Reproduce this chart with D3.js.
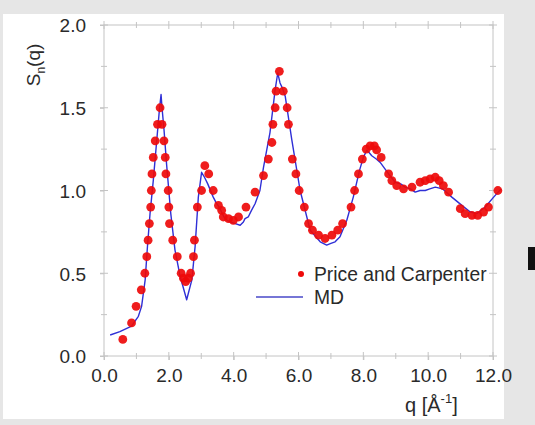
<!DOCTYPE html>
<html>
<head>
<meta charset="utf-8">
<script src="https://cdn.jsdelivr.net/npm/d3@7"></script>
<style>
  html, body { margin: 0; padding: 0; background: #fff; }
  svg { display: block; font-family: "Liberation Sans", Arial, Helvetica, sans-serif; }
</style>
</head>
<body>
<svg id="chart" width="535" height="425"></svg>
<script>
// Neutron structure factor S_n(q): experiment (Price and Carpenter) vs. MD simulation
const expQ = [0.58,0.85,0.99,1.15,1.26,1.32,1.36,1.40,1.44,1.46,1.48,1.52,1.58,1.65,1.73,1.79,1.85,1.89,1.91,1.98,2.00,2.02,2.12,2.26,2.38,2.45,2.52,2.60,2.67,2.76,2.79,2.88,3.01,3.11,3.23,3.37,3.53,3.63,3.68,3.84,3.99,4.15,4.38,4.66,4.92,5.07,5.18,5.21,5.28,5.31,5.41,5.53,5.65,5.69,5.81,5.92,6.02,6.18,6.31,6.43,6.62,6.82,7.03,7.21,7.36,7.62,7.73,7.85,7.97,8.09,8.21,8.34,8.41,8.55,8.78,8.88,9.03,9.24,9.50,9.75,9.91,10.06,10.22,10.34,10.47,10.63,10.99,11.14,11.35,11.53,11.71,11.86,12.15];
const expS = [0.10,0.20,0.30,0.40,0.50,0.60,0.70,0.80,0.90,1.00,1.10,1.20,1.30,1.40,1.50,1.40,1.30,1.20,1.10,1.00,0.90,0.80,0.70,0.60,0.50,0.47,0.45,0.47,0.50,0.60,0.70,0.90,1.00,1.15,1.10,1.00,0.91,0.88,0.84,0.83,0.82,0.84,0.90,0.99,1.09,1.19,1.29,1.40,1.50,1.60,1.72,1.60,1.50,1.40,1.19,1.10,1.00,0.90,0.80,0.76,0.73,0.71,0.73,0.76,0.80,0.90,1.00,1.10,1.19,1.25,1.27,1.27,1.245,1.20,1.10,1.06,1.03,1.01,1.02,1.05,1.06,1.07,1.08,1.06,1.03,0.99,0.89,0.86,0.85,0.85,0.87,0.90,1.00];

const mdQ = [0.19,0.49,0.85,1.06,1.16,1.27,1.34,1.42,1.52,1.63,1.71,1.76,1.79,1.85,1.93,2.06,2.19,2.35,2.55,2.71,2.81,2.91,3.01,3.10,3.20,3.37,3.45,3.58,3.70,3.80,3.89,4.05,4.20,4.30,4.35,4.45,4.55,4.66,4.81,4.92,5.12,5.28,5.36,5.43,5.50,5.59,5.79,6.05,6.36,6.67,6.87,7.00,7.13,7.28,7.49,7.69,7.88,8.00,8.11,8.26,8.40,8.52,8.78,8.98,9.15,9.29,9.45,9.60,9.75,9.91,10.05,10.22,10.44,10.73,11.04,11.30,11.50,11.76,12.02,12.25];
const mdS = [0.127,0.147,0.18,0.24,0.30,0.46,0.66,0.86,1.06,1.31,1.49,1.58,1.50,1.37,1.16,0.86,0.64,0.48,0.34,0.46,0.66,0.96,1.11,1.08,1.04,0.96,0.93,0.89,0.84,0.82,0.81,0.80,0.79,0.81,0.83,0.84,0.88,0.92,1.00,1.14,1.35,1.61,1.71,1.65,1.62,1.57,1.31,1.00,0.76,0.69,0.67,0.68,0.69,0.72,0.82,0.96,1.12,1.20,1.245,1.21,1.19,1.17,1.10,1.05,1.04,1.02,1.01,0.99,1.00,1.00,1.01,1.02,1.01,0.96,0.91,0.87,0.86,0.90,0.96,1.01];

const xMajor = [0, 2, 4, 6, 8, 10, 12];
const xMinor = [1, 3, 5, 7, 9, 11];
const yMajor = [0, 0.5, 1.0, 1.5, 2.0];
const yMinor = [0.25, 0.75, 1.25, 1.75];

const legendLabels = ["Price and Carpenter", "MD"];

const svg = d3.select("#chart");
const W = 535, H = 425;

// page backdrop: grey border bands around the white sheet
svg.append("rect").attr("x", 0).attr("y", 0).attr("width", W).attr("height", H).attr("fill", "#e6e6e6");
svg.append("rect").attr("x", 3).attr("y", 14).attr("width", 501).attr("height", 405).attr("fill", "#ffffff");
svg.append("rect").attr("x", 528).attr("y", 247).attr("width", 7).attr("height", 23).attr("fill", "#111");

const x = d3.scaleLinear().domain([0, 12]).range([104, 493]);
const y = d3.scaleLinear().domain([0, 2]).range([356, 25]);

const frameColor = "#c4c4c4";
const labelColor = "#2a2a2a";
const tickFont = 19;

// frame
svg.append("rect")
  .attr("x", x(0)).attr("y", y(2))
  .attr("width", x(12) - x(0)).attr("height", y(0) - y(2))
  .attr("fill", "none").attr("stroke", frameColor).attr("stroke-width", 1);

function styleAxis(g) {
  g.select(".domain").remove();
  g.selectAll(".tick line").attr("stroke", frameColor);
  g.selectAll(".tick text")
    .attr("fill", labelColor)
    .attr("font-size", tickFont)
    .attr("font-family", "'Liberation Sans', Arial, Helvetica, sans-serif");
}

// bottom axis with labels
svg.append("g")
  .attr("transform", `translate(0,${y(0)})`)
  .call(d3.axisBottom(x).tickValues(xMajor).tickFormat(d3.format(".1f")).tickSizeInner(4).tickSizeOuter(0).tickPadding(9))
  .call(styleAxis);

// left axis with labels
svg.append("g")
  .attr("transform", `translate(${x(0)},0)`)
  .call(d3.axisLeft(y).tickValues(yMajor).tickFormat(d3.format(".1f")).tickSizeInner(4).tickSizeOuter(0).tickPadding(14))
  .call(styleAxis)
  .call(g => g.selectAll(".tick text").attr("dy", "0.36em"));

// tick marks crossing every side of the frame
const tk = svg.append("g").attr("stroke", frameColor).attr("stroke-width", 1);
[...xMajor, ...xMinor].forEach(v => {
  const len = xMajor.includes(v) ? 4 : 3;
  tk.append("line").attr("x1", x(v)).attr("x2", x(v)).attr("y1", y(0) - len).attr("y2", y(0) + len);
  tk.append("line").attr("x1", x(v)).attr("x2", x(v)).attr("y1", y(2) - len).attr("y2", y(2) + len);
});
[...yMajor, ...yMinor].forEach(v => {
  const len = yMajor.includes(v) ? 4 : 3;
  tk.append("line").attr("y1", y(v)).attr("y2", y(v)).attr("x1", x(0) - len).attr("x2", x(0) + len);
  tk.append("line").attr("y1", y(v)).attr("y2", y(v)).attr("x1", x(12) - len).attr("x2", x(12) + len);
});

// MD curve
const mdData = mdQ.map((q, i) => [q, mdS[i]]);
svg.append("path")
  .datum(mdData)
  .attr("fill", "none")
  .attr("stroke", "#2f2fd6")
  .attr("stroke-width", 1.4)
  .attr("stroke-linejoin", "round")
  .attr("d", d3.line().x(d => x(d[0])).y(d => y(d[1])));

// experimental points
svg.append("g")
  .selectAll("circle")
  .data(expQ.map((q, i) => [q, expS[i]]))
  .join("circle")
  .attr("cx", d => x(d[0]))
  .attr("cy", d => y(d[1]))
  .attr("r", 4.4)
  .attr("fill", "#ee0a0a")
  .attr("fill-opacity", 0.92);

// legend
const lg = svg.append("g");
lg.append("circle").attr("cx", 301).attr("cy", 274).attr("r", 3).attr("fill", "#ee0a0a");
lg.append("text").attr("x", 314).attr("y", 281).attr("font-size", 19.3).attr("fill", labelColor).text(legendLabels[0]);
lg.append("line").attr("x1", 256).attr("x2", 303).attr("y1", 297).attr("y2", 297)
  .attr("stroke", "#4848c8").attr("stroke-width", 1.4);
lg.append("text").attr("x", 314).attr("y", 304).attr("font-size", 19.3).attr("fill", labelColor).text(legendLabels[1]);

// axis titles
const yt = svg.append("text")
  .attr("transform", "translate(40,65) rotate(-90)")
  .attr("text-anchor", "middle")
  .attr("font-size", 19)
  .attr("fill", labelColor);
yt.append("tspan").text("S");
yt.append("tspan").attr("font-size", 12).attr("dy", 5).text("n");
yt.append("tspan").attr("dy", -5).text("(q)");

const xt = svg.append("text")
  .attr("x", 405).attr("y", 412)
  .attr("font-size", 20)
  .attr("fill", labelColor);
xt.append("tspan").text("q [Å");
xt.append("tspan").attr("font-size", 13).attr("dy", -9).text("-1");
xt.append("tspan").attr("dy", 9).text("]");
</script>
</body>
</html>
